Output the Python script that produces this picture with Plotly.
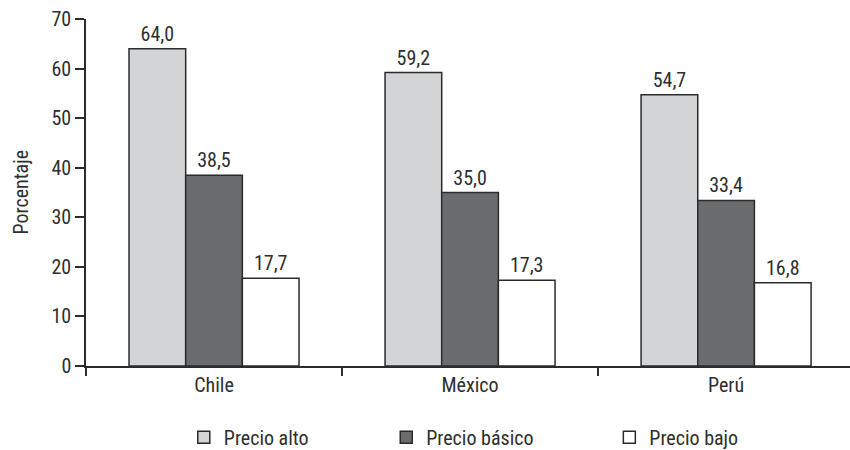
import plotly.graph_objects as go

categories = ["Chile", "México", "Perú"]
series_names = ["Precio alto", "Precio básico", "Precio bajo"]
precio_alto = [64.0, 59.2, 54.7]
precio_basico = [38.5, 35.0, 33.4]
precio_bajo = [17.7, 17.3, 16.8]
y_ticks = [0, 10, 20, 30, 40, 50, 60, 70]

colors = ["#d3d4d6", "#6b6c6e", "#ffffff"]
legend_ids = ["legend", "legend2", "legend3"]
legend_x = [0.128, 0.393, 0.685]
FONT = "Roboto Condensed"
TXT = "#2e2e2e"
SZ = 20

fig = go.Figure()
for name, vals, col, lg in zip(series_names, [precio_alto, precio_basico, precio_bajo], colors, legend_ids):
    fig.add_trace(go.Bar(
        x=categories, y=vals, name=name, legend=lg,
        marker=dict(color=col, line=dict(color="#2b2b2b", width=1.5)),
        texttemplate="%{y:.1f}", textposition="outside",
        textfont=dict(family=FONT, size=SZ, color=TXT),
        cliponaxis=False,
    ))

legend_common = dict(orientation="h", xanchor="left", y=-0.205, yanchor="middle",
                     font=dict(family=FONT, size=SZ, color=TXT), bgcolor="rgba(0,0,0,0)")

fig.update_layout(
    width=850, height=450,
    margin=dict(l=86, r=0, t=19, b=84, autoexpand=False),
    paper_bgcolor="white", plot_bgcolor="white",
    barmode="group", bargap=0.336, bargroupgap=0,
    separators=",.",
    font=dict(family=FONT, size=SZ, color=TXT),
    showlegend=True,
    legend=dict(x=legend_x[0], **legend_common),
    legend2=dict(x=legend_x[1], **legend_common),
    legend3=dict(x=legend_x[2], **legend_common),
    xaxis=dict(range=[-0.5, 2.484], showline=True, linecolor="#2b2b2b", linewidth=1.5,
               ticks="outside", tickson="boundaries", ticklen=8, tickwidth=1.5, tickcolor="#2b2b2b",
               showgrid=False, zeroline=False, automargin=False,
               tickfont=dict(family=FONT, size=SZ, color=TXT)),
    yaxis=dict(range=[0, 70], tickvals=y_ticks, showline=True, linecolor="#2b2b2b", linewidth=1.5,
               ticks="outside", ticklen=9, tickwidth=1.5, tickcolor="#2b2b2b",
               showgrid=False, zeroline=False, automargin=False,
               tickfont=dict(family=FONT, size=SZ, color=TXT)),
    annotations=[dict(text="Porcentaje", textangle=-90, xref="paper", yref="paper",
                      x=0, y=0.5, xshift=-66, xanchor="center", yanchor="middle", showarrow=False,
                      font=dict(family=FONT, size=SZ, color=TXT))],
)

fig.write_html("out.html", config={"displayModeBar": False},
               post_script="document.body.style.margin='0';")
